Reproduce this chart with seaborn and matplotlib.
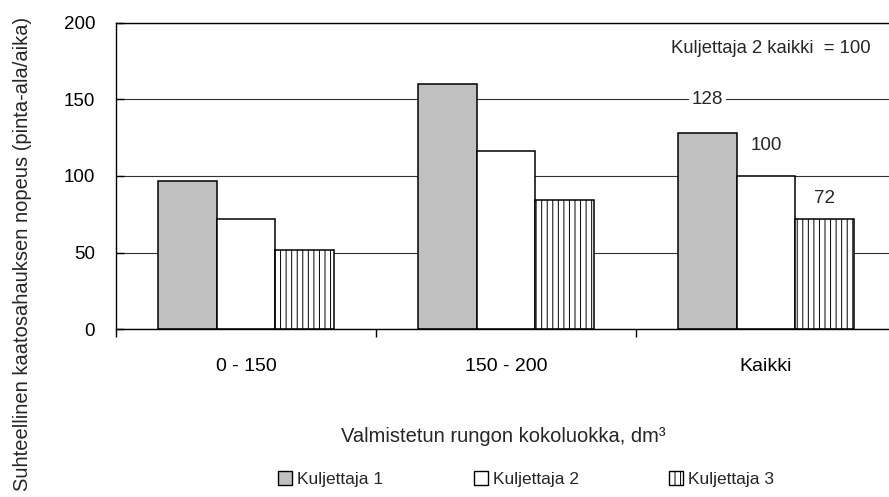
import numpy as np
import pandas as pd
import seaborn as sns
import matplotlib.pyplot as plt
from matplotlib.patches import Patch

classes = ["0 - 150", "150 - 200", "Kaikki"]
drivers = ["Kuljettaja 1", "Kuljettaja 2", "Kuljettaja 3"]
kuljettaja1 = [97, 160, 128]
kuljettaja2 = [72, 116, 100]
kuljettaja3 = [52, 84, 72]
yticks = [0, 50, 100, 150, 200]
note = "Kuljettaja 2 kaikki  = 100"
ylabel = "Suhteellinen kaatosahauksen nopeus (pinta-ala/aika)"
xlabel = "Valmistetun rungon kokoluokka, dm³"

df = pd.DataFrame({
    "Luokka": classes * 3,
    "Kuljettaja": [d for d in drivers for _ in classes],
    "Nopeus": kuljettaja1 + kuljettaja2 + kuljettaja3,
})

sns.set_style("white")
plt.rcParams["font.family"] = ["Liberation Sans", "DejaVu Sans"]
plt.rcParams["hatch.linewidth"] = 0.7

fig = plt.figure(figsize=(8.89, 4.97), dpi=100)
ax = fig.add_axes([0.1305, 0.3374, 0.8774, 0.6173])

palette = {"Kuljettaja 1": "#c0c0c0", "Kuljettaja 2": "white", "Kuljettaja 3": "white"}
sns.barplot(data=df, x="Luokka", y="Nopeus", hue="Kuljettaja", order=classes,
            hue_order=drivers, palette=palette, saturation=1, width=0.677, gap=0,
            errorbar=None, edgecolor="black", linewidth=1.1, legend=False, ax=ax)

# hatch for driver 3
for bar in ax.containers[2]:
    bar.set_hatch("|||")

ax.set_xlim(-0.5, 2.5)
ax.set_ylim(0, 200)
ax.set_yticks(yticks)
ax.set_axisbelow(True)
ax.yaxis.grid(True, color="#303030", linewidth=0.8)
ax.xaxis.grid(False)

for s in ["left", "top", "bottom", "right"]:
    ax.spines[s].set_color("black")
    ax.spines[s].set_linewidth(1.0)

ax.tick_params(axis="y", direction="in", length=6, width=1, pad=15,
               labelsize=13.5, colors="black", left=True)
ax.tick_params(axis="x", which="major", length=0, pad=21, labelsize=14, colors="black")
ax.set_xticks(np.arange(-0.5, 3, 1), minor=True)
ax.tick_params(axis="x", which="minor", direction="out", length=6, width=1,
               bottom=True, colors="black")
ax.set_xlabel("")
ax.set_ylabel("")

# value notes for the "Kaikki" group
def bar_center(container, i):
    p = ax.containers[container][i]
    return p.get_x() + p.get_width() / 2

ax.text(bar_center(0, 2), 150, str(kuljettaja1[2]), ha="center", va="center", fontsize=13.5,
        bbox=dict(facecolor="white", edgecolor="none", pad=2))
ax.text(bar_center(1, 2), kuljettaja2[2] + 20, str(kuljettaja2[2]), ha="center", va="center",
        fontsize=13.5)
ax.text(bar_center(2, 2), kuljettaja3[2] + 13.5, str(kuljettaja3[2]), ha="center", va="center",
        fontsize=13.5)
ax.text(2.02, 183, note, ha="center", va="center", fontsize=13.3)

fig.text(23 / 889, 1 - 254 / 497, ylabel, rotation=90, ha="center", va="center", fontsize=14.5)
fig.text(503 / 889, 1 - 437 / 497, xlabel, ha="center", va="center", fontsize=14.5)

handles = [Patch(facecolor=palette[d], edgecolor="black", linewidth=1.0) for d in drivers]
handles[2].set_hatch("|||")
fig.legend(handles, drivers, loc="center", bbox_to_anchor=(0.592, 0.036), ncol=3,
           frameon=False, fontsize=12.5, handlelength=0.8, handleheight=0.8,
           handletextpad=0.3, columnspacing=5.2)

fig.savefig("out.png", dpi=100)
